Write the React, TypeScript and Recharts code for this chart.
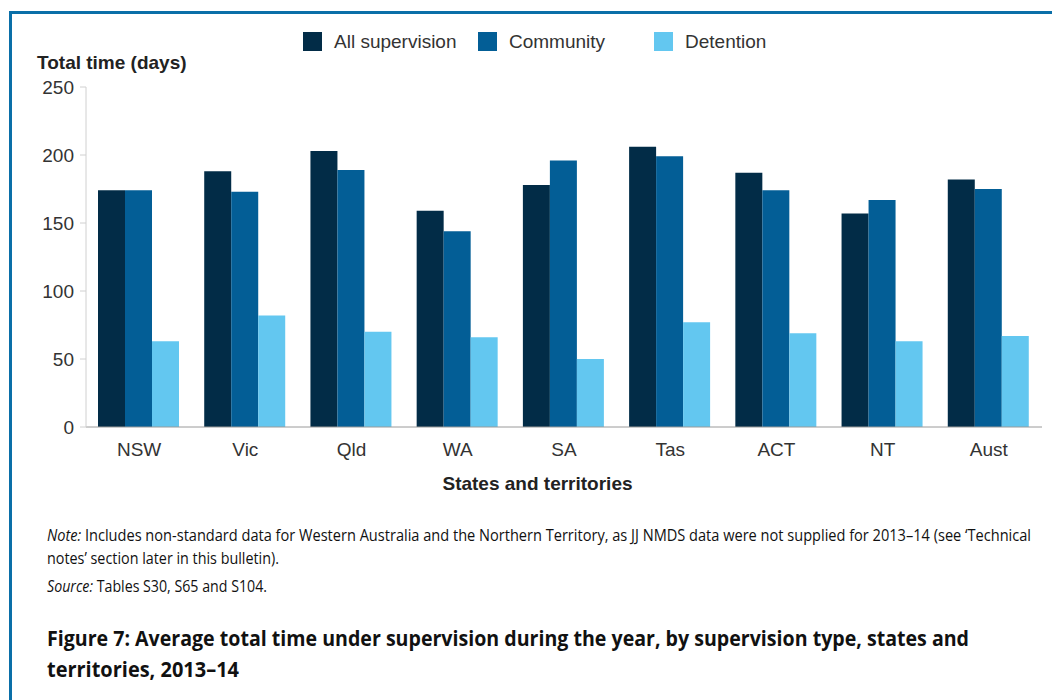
import { BarChart, Bar, XAxis, YAxis } from "recharts"

const states = ["NSW", "Vic", "Qld", "WA", "SA", "Tas", "ACT", "NT", "Aust"]
const allSupervision = [174, 188, 203, 159, 178, 206, 187, 157, 182]
const community = [174, 173, 189, 144, 196, 199, 174, 167, 175]
const detention = [63, 82, 70, 66, 50, 77, 69, 63, 67]
const yTicks = [0, 50, 100, 150, 200, 250]

const series = [
  { key: "all", name: "All supervision", color: "#022c47" },
  { key: "community", name: "Community", color: "#035e96" },
  { key: "detention", name: "Detention", color: "#63c7f0" },
]

const data = states.map((state, i) => ({
  state,
  all: allSupervision[i],
  community: community[i],
  detention: detention[i],
}))

// legend x positions taken from the original figure
const legendX = [303, 478, 654]

const sans = "'Liberation Sans', Arial, sans-serif"
const humanist = "'Open Sans', 'Noto Sans', sans-serif"

export default function App() {
  return (
    <div
      style={{
        position: "absolute",
        left: 0,
        top: 0,
        width: 1052,
        height: 700,
        background: "#fff",
        overflow: "hidden",
        fontFamily: sans,
      }}
    >
      <div
        style={{
          position: "absolute",
          left: 9,
          top: 11,
          width: 1100,
          height: 760,
          borderTop: "3px solid #0a6fa8",
          borderLeft: "3px solid #0a6fa8",
        }}
      />

      {series.map((s, i) => (
        <div
          key={s.key}
          style={{
            position: "absolute",
            left: legendX[i],
            top: 32,
            height: 19,
            display: "flex",
            alignItems: "center",
            fontSize: 19,
            color: "#333",
          }}
        >
          <span style={{ width: 19, height: 19, background: s.color, marginRight: 12 }} />
          <span>{s.name}</span>
        </div>
      ))}

      <div
        style={{
          position: "absolute",
          left: 37,
          top: 52,
          fontSize: 19,
          fontWeight: 700,
          color: "#222",
        }}
      >
        Total time (days)
      </div>

      <div style={{ position: "absolute", left: 0, top: 0 }}>
        <BarChart
          width={1052}
          height={470}
          data={data}
          margin={{ top: 87, right: 10, left: 26, bottom: 13 }}
          barCategoryGap={12}
          barGap={0}
        >
          <XAxis
            dataKey="state"
            height={30}
            axisLine={{ stroke: "#9a9a9a" }}
            tickLine={false}
            tick={{ fontSize: 19, fill: "#333", fontFamily: sans }}
            tickMargin={10}
          />
          <YAxis
            width={60}
            domain={[0, 250]}
            ticks={yTicks}
            axisLine={{ stroke: "#d0d0d0" }}
            tickLine={{ stroke: "#d0d0d0" }}
            tickSize={6}
            tickMargin={6}
            tick={{ fontSize: 19, fill: "#333", fontFamily: sans }}
          />
          {series.map((s) => (
            <Bar
              key={s.key}
              dataKey={s.key}
              name={s.name}
              fill={s.color}
              isAnimationActive={false}
            />
          ))}
        </BarChart>
      </div>

      <div
        style={{
          position: "absolute",
          left: 0,
          width: 1075,
          top: 473,
          textAlign: "center",
          fontSize: 19,
          fontWeight: 700,
          color: "#222",
        }}
      >
        States and territories
      </div>

      <svg
        width={1052}
        height={700}
        style={{ position: "absolute", left: 0, top: 0, pointerEvents: "none" }}
        fontFamily={humanist}
        fill="#111"
      >
        <text x={47} y={541} fontSize={17} textLength={984} lengthAdjust="spacingAndGlyphs">
          <tspan fontStyle="italic">Note:</tspan>
          {" Includes non-standard data for Western Australia and the Northern Territory, as JJ NMDS data were not supplied for 2013–14 (see ‘Technical"}
        </text>
        <text x={47} y={564} fontSize={17} textLength={232} lengthAdjust="spacingAndGlyphs">
          notes’ section later in this bulletin).
        </text>
        <text x={47} y={592} fontSize={17} textLength={220} lengthAdjust="spacingAndGlyphs">
          <tspan fontStyle="italic">Source:</tspan>
          {" Tables S30, S65 and S104."}
        </text>
        <text
          x={47}
          y={646}
          fontSize={21}
          fontWeight={700}
          textLength={922}
          lengthAdjust="spacingAndGlyphs"
        >
          Figure 7: Average total time under supervision during the year, by supervision type, states and
        </text>
        <text
          x={47}
          y={677}
          fontSize={21}
          fontWeight={700}
          textLength={192}
          lengthAdjust="spacingAndGlyphs"
        >
          territories, 2013–14
        </text>
      </svg>
    </div>
  )
}
